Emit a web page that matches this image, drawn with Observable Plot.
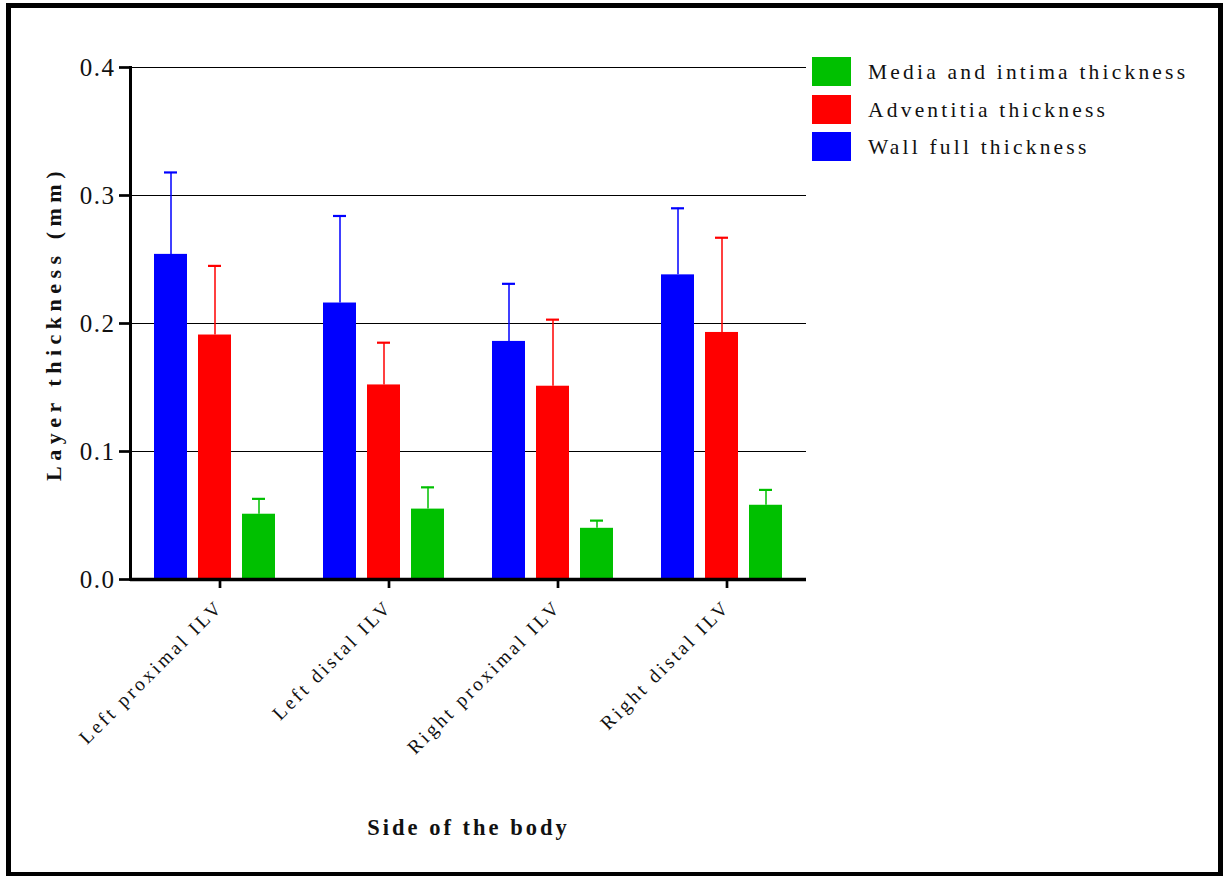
<!DOCTYPE html>
<html>
<head>
<meta charset="utf-8">
<script src="https://cdn.jsdelivr.net/npm/d3@7"></script>
<script src="https://cdn.jsdelivr.net/npm/@observablehq/plot@0.6"></script>
<style>
  html, body { margin: 0; padding: 0; background: #fff; }
  #wrap { position: relative; width: 1223px; height: 876px; overflow: hidden; font-family: "Liberation Serif", serif; }
  #chart { position: absolute; left: 0; top: 0; }
  #border { position: absolute; left: 6px; top: 3px; width: 1207px; height: 864px; border: 5px solid #000; pointer-events: none; }
  #legend { position: absolute; left: 812px; top: 53px; }
  .li { display: flex; align-items: center; height: 37.5px; }
  .sw { width: 39px; height: 29px; margin-right: 17px; }
  .lt { font-size: 21.5px; letter-spacing: 3.2px; color: #111; position: relative; top: 1px; }
  g[aria-label="y-axis label"] text { font-weight: bold; letter-spacing: 5.5px; font-size: 22px; }
  g[aria-label="fx-axis label"] text { font-weight: bold; letter-spacing: 3px; font-size: 22.5px; }
  g[aria-label="y-axis tick label"] text { letter-spacing: 1.5px; }
  g[aria-label="fx-axis tick label"] text { letter-spacing: 3px; }
</style>
</head>
<body>
<div id="wrap">
  <div id="chart"></div>
  <div id="legend"></div>
  <div id="border"></div>
</div>
<script>
const groups = ["Left proximal ILV", "Left distal ILV", "Right proximal ILV", "Right distal ILV"];
const series = ["Wall full thickness", "Adventitia thickness", "Media and intima thickness"];
const colors = ["#0000ff", "#ff0000", "#00c000"];
const wallMean = [0.254, 0.216, 0.186, 0.238];
const wallSD = [0.064, 0.068, 0.045, 0.052];
const adventMean = [0.191, 0.152, 0.151, 0.193];
const adventSD = [0.054, 0.033, 0.052, 0.074];
const mediaMean = [0.051, 0.055, 0.040, 0.058];
const mediaSD = [0.012, 0.017, 0.006, 0.012];
const yTicks = [0, 0.1, 0.2, 0.3, 0.4];
const legendOrder = ["Media and intima thickness", "Adventitia thickness", "Wall full thickness"];

const means = [wallMean, adventMean, mediaMean];
const sds = [wallSD, adventSD, mediaSD];
const data = [];
groups.forEach((g, gi) => series.forEach((s, si) => {
  data.push({group: g, series: s, mean: means[si][gi], hi: means[si][gi] + sds[si][gi]});
}));

const plot = Plot.plot({
  width: 1223,
  height: 876,
  marginLeft: 130,
  marginRight: 417,
  marginTop: 67,
  marginBottom: 297,
  style: {fontFamily: "Liberation Serif", color: "#111", background: "transparent"},
  fx: {domain: groups, padding: 0, label: null},
  x: {domain: series, paddingInner: 0.24, paddingOuter: 0.5, axis: null},
  y: {domain: [0, 0.4], axis: null},
  color: {domain: series, range: colors},
  marks: [
    Plot.gridY(yTicks.slice(1), {stroke: "#000", strokeOpacity: 1, strokeWidth: 1}),
    Plot.barY(data, {fx: "group", x: "series", y: "mean", fill: "series"}),
    Plot.ruleX(data, {fx: "group", x: "series", y1: "mean", y2: "hi", stroke: "series", strokeWidth: 1.5}),
    Plot.tickY(data, {fx: "group", x: "series", y: "hi", stroke: "series", strokeWidth: 2.2, insetLeft: 10, insetRight: 10}),
    Plot.ruleY([0], {stroke: "#000", strokeWidth: 3.5}),
    Plot.frame({anchor: "left", facetAnchor: "left", stroke: "#000", strokeWidth: 3}),
    Plot.axisY({
      ticks: yTicks, tickFormat: d3.format(".1f"), tickSize: 11, tickPadding: 4,
      fontSize: 25, strokeWidth: 2.7, stroke: "#000",
      label: "Layer thickness (mm)", labelAnchor: "center", labelArrow: "none", labelOffset: 85
    }),
    Plot.axisFx({
      anchor: "bottom", tickRotate: -45, tickSize: 9, tickPadding: 15, strokeWidth: 2.7, stroke: "#000",
      fontSize: 19.5, dx: 5,
      label: "Side of the body", labelAnchor: "center", labelArrow: "none", labelOffset: 255
    })
  ]
});
document.getElementById("chart").appendChild(plot);

const leg = document.getElementById("legend");
legendOrder.forEach(s => {
  const row = document.createElement("div");
  row.className = "li";
  const sw = document.createElement("div");
  sw.className = "sw";
  sw.style.background = colors[series.indexOf(s)];
  const t = document.createElement("div");
  t.className = "lt";
  t.textContent = s;
  row.appendChild(sw);
  row.appendChild(t);
  leg.appendChild(row);
});
</script>
</body>
</html>
